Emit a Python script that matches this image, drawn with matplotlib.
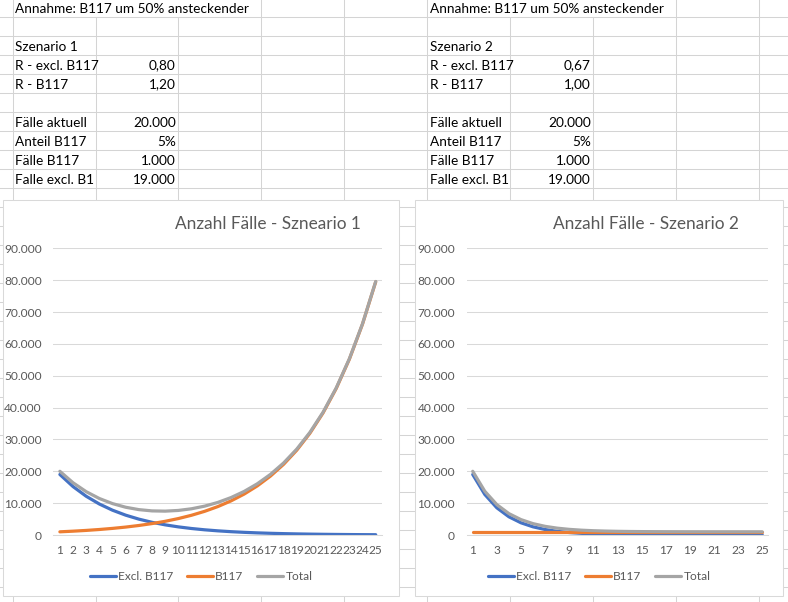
import matplotlib
matplotlib.use("Agg")
import matplotlib.pyplot as plt
from matplotlib.patches import Rectangle
from matplotlib.ticker import FuncFormatter, MultipleLocator

plt.rcParams['font.family'] = ['Lato', 'DejaVu Sans']

W, H = 788, 602

# --- Tabellenwerte (Zellen) ---
title_cell = "Annahme: B117 um 50% ansteckender"
cell_labels_1 = ["Szenario 1", "R - excl. B117", "R - B117", "", "Fälle aktuell",
                 "Anteil B117", "Fälle B117", "Falle excl. B1"]
cell_values_1 = ["", "0,80", "1,20", "", "20.000", "5%", "1.000", "19.000"]
cell_labels_2 = ["Szenario 2", "R - excl. B117", "R - B117", "", "Fälle aktuell",
                 "Anteil B117", "Fälle B117", "Falle excl. B1"]
cell_values_2 = ["", "0,67", "1,00", "", "20.000", "5%", "1.000", "19.000"]

# --- Diagrammdaten ---
tage = list(range(1, 26))

excl_1 = [19000, 15200, 12160, 9728, 7782, 6226, 4981, 3985, 3188, 2550,
          2040, 1632, 1306, 1045, 836, 669, 535, 428, 342, 274,
          219, 175, 140, 112, 90]
b117_1 = [1000, 1200, 1440, 1728, 2074, 2488, 2986, 3583, 4300, 5160,
          6192, 7430, 8916, 10699, 12839, 15407, 18488, 22186, 26623, 31948,
          38338, 46005, 55206, 66247, 79497]
total_1 = [20000, 16400, 13600, 11456, 9856, 8714, 7967, 7568, 7488, 7710,
           8232, 9062, 10222, 11744, 13675, 16076, 19023, 22614, 26965, 32222,
           38557, 46180, 55346, 66359, 79587]

excl_2 = [19000, 12730, 8529, 5714, 3829, 2565, 1719, 1152, 772, 517,
          346, 232, 155, 104, 70, 47, 31, 21, 14, 9,
          6, 4, 3, 2, 1]
b117_2 = [1000] * 25
total_2 = [20000, 13730, 9529, 6714, 4829, 3565, 2719, 2152, 1772, 1517,
           1346, 1232, 1155, 1104, 1070, 1047, 1031, 1021, 1014, 1009,
           1006, 1004, 1003, 1002, 1001]

serien_namen = ["Excl. B117", "B117", "Total"]
farben = ["#4472C4", "#ED7D31", "#A5A5A5"]

fig = plt.figure(figsize=(W / 100, H / 100), dpi=100)

# Hintergrund: Excel-Raster
bg = fig.add_axes([0, 0, 1, 1])
bg.set_xlim(0, W)
bg.set_ylim(H, 0)
bg.axis("off")

grid_col = "#d4d4d4"
row_h = 19
row_top = 17.3
col_x = [12.7 + 82.9 * k for k in range(10)]

for k in range(32):
    y = row_top + row_h * k
    bg.plot([0, W], [y, y], color=grid_col, lw=0.75, zorder=1)
for k, x in enumerate(col_x):
    y0 = row_top if k in (1, 2, 6, 7) else 0
    bg.plot([x, x], [y0, H], color=grid_col, lw=0.75, zorder=1)


def row_y(r):
    return -1.7 + row_h * r + 10.3


cell_font = 9.8
bg.text(15.3, row_y(0), title_cell, fontsize=cell_font, va="center", ha="left", zorder=2)
bg.text(430, row_y(0), title_cell, fontsize=cell_font, va="center", ha="left", zorder=2)
for i in range(len(cell_labels_1)):
    r = i + 2
    bg.text(15.3, row_y(r), cell_labels_1[i], fontsize=cell_font, va="center", ha="left", zorder=2)
    bg.text(175.7, row_y(r), cell_values_1[i], fontsize=cell_font, va="center", ha="right", zorder=2)
    bg.text(430, row_y(r), cell_labels_2[i], fontsize=cell_font, va="center", ha="left", zorder=2)
    bg.text(591, row_y(r), cell_values_2[i], fontsize=cell_font, va="center", ha="right", zorder=2)

# Diagrammrahmen
bg.add_patch(Rectangle((3, 200), 396.3, 396, fc="white", ec="#d9d9d9", lw=0.75, zorder=3))
bg.add_patch(Rectangle((415, 200), 367.7, 396, fc="white", ec="#d9d9d9", lw=0.75, zorder=3))

txt_col = "#595959"
de_fmt = FuncFormatter(lambda v, p: f"{v:,.0f}".replace(",", "."))


def make_chart(left, right, excl, b117, total, title, title_x, legend_x, step):
    top, bottom = 248.3, 535.0
    ax = fig.add_axes([left / W, 1 - bottom / H, (right - left) / W, (bottom - top) / H])
    ax.set_facecolor("none")
    for name, vals, col in zip(serien_namen, [excl, b117, total], farben):
        ax.plot(tage, vals, color=col, lw=2.3, label=name, solid_capstyle="round")
    ax.set_xlim(0.5, 25.5)
    ax.set_ylim(0, 90000)
    ax.yaxis.set_major_locator(MultipleLocator(10000))
    ax.yaxis.set_major_formatter(de_fmt)
    ax.set_xticks(tage[::step])
    ax.set_xticklabels([str(t) for t in tage[::step]])
    ax.grid(axis="y", color="#d9d9d9", lw=0.75)
    ax.set_axisbelow(True)
    for s in ["top", "right", "left"]:
        ax.spines[s].set_visible(False)
    ax.spines["bottom"].set_color("#d9d9d9")
    ax.spines["bottom"].set_linewidth(0.75)
    ax.tick_params(axis="y", length=0, pad=8.4, labelsize=8.6, labelcolor=txt_col)
    ax.tick_params(axis="x", length=0, pad=7, labelsize=8.6, labelcolor=txt_col)
    fig.text(title_x / W, 1 - 224 / H, title, fontsize=12.4, color=txt_col,
             ha="center", va="center")
    ax.legend(loc="center", bbox_to_anchor=(legend_x / W, 1 - 576.7 / H),
              bbox_transform=fig.transFigure, ncol=3, frameon=False, fontsize=8.6,
              handlelength=2.2, handletextpad=0.2, columnspacing=1.1, labelcolor=txt_col)
    return ax


make_chart(53.3, 382.3, excl_1, b117_1, total_1, "Anzahl Fälle - Szneario 1", 267.5, 201, 1)
make_chart(466.7, 768.3, excl_2, b117_2, total_2, "Anzahl Fälle - Szenario 2", 645.8, 599, 2)

fig.savefig("out.png", dpi=100)
